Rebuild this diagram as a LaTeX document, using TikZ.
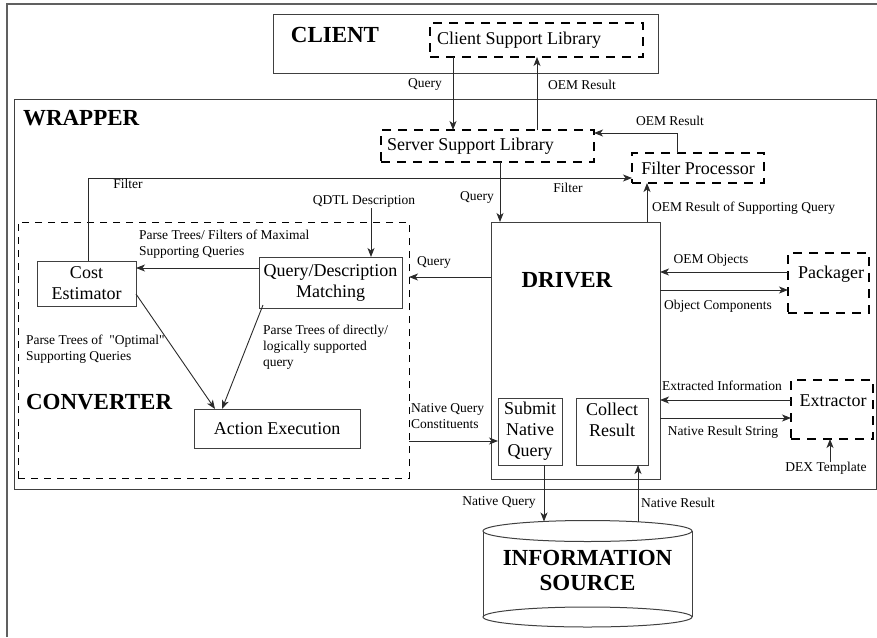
\documentclass[tikz,border=0pt]{standalone}
\usepackage{fontspec}
\setmainfont{Liberation Serif}[Ligatures=TeXOff]
\usetikzlibrary{arrows.meta,calc}
\definecolor{boxgray}{HTML}{404040}
\definecolor{linegray}{HTML}{2A2A2A}
\definecolor{framegray}{HTML}{606060}
\begin{document}
\begin{tikzpicture}[x=1pt,y=-1pt,
  every node/.style={inner sep=0pt, outer sep=0pt},
  solidbox/.style={draw=boxgray, line width=1pt},
  dashbox/.style={draw=black, line width=1.4pt, dash pattern=on 9pt off 7pt},
  convbox/.style={draw=black, line width=0.9pt, dash pattern=on 7pt off 6pt},
  conn/.style={draw=linegray, line width=0.9pt, -{Stealth[length=9pt,width=7pt,inset=2.5pt]}},
  lbl/.style={font=\fontsize{13.5}{16}\selectfont, align=left},
  boxtxt/.style={font=\fontsize{18}{21}\selectfont, align=center},
  title/.style={font=\fontsize{23}{25}\selectfont\bfseries, align=center}]
\useasboundingbox (0,0) rectangle (877,637);

% page frame (top and left edges)
\draw[framegray, line width=1.6pt] (7,637) -- (7,4) -- (877,4);

% ---------- client side ----------
\node[solidbox, minimum width=385, minimum height=59] (client) at (465.5,43.5) {};
\node[title, anchor=center] (clientT) at (335,35) {CLIENT};
\node[dashbox, minimum width=213, minimum height=34] (csl) at (536.5,40) {};
\node[boxtxt, anchor=west] (cslT) at (437,40) {Client Support Library};

% ---------- wrapper ----------
\node[solidbox, minimum width=862, minimum height=390] (wrapper) at (445,294) {};
\node[title, anchor=west] (wrapT) at (23,118) {WRAPPER};

\node[dashbox, minimum width=213, minimum height=32] (ssl) at (487.5,146) {};
\node[boxtxt, anchor=west] (sslT) at (387,146) {Server Support Library};

\node[dashbox, minimum width=132, minimum height=30, boxtxt] (fp) at (698,168) {Filter Processor};

% driver with its two inner boxes
\node[solidbox, minimum width=169, minimum height=257] (drv) at (575.5,350.5) {};
\node[title] (drvT) at (567,280) {DRIVER};
\node[solidbox, minimum width=64, minimum height=67, boxtxt] (snq) at (530,431.5) {Submit\\Native\\Query};
\node[solidbox, minimum width=72, minimum height=67] (cr) at (612,431.5) {};
\node[boxtxt] (crT) at (612,420) {Collect\\Result};

% packager and extractor
\node[dashbox, minimum width=81, minimum height=60] (pkg) at (828.5,283) {};
\node[boxtxt] (pkgT) at (831,274) {Packager};
\node[dashbox, minimum width=82, minimum height=59] (ext) at (832,409.5) {};
\node[boxtxt] (extT) at (833,401) {Extractor};

% converter
\node[convbox, minimum width=391, minimum height=256] (conv) at (213.5,350) {};
\node[title, anchor=west] (convT) at (26,402) {CONVERTER};
\node[solidbox, minimum width=99, minimum height=45, boxtxt] (ce) at (86.5,283.5) {Cost\\Estimator};
\node[solidbox, minimum width=143, minimum height=51, boxtxt] (qdm) at (330.5,282.5) {Query/Description\\Matching};
\node[solidbox, minimum width=166, minimum height=39, boxtxt] (ae) at (277,428.5) {Action Execution};

% information source (cylinder)
\draw[boxgray, line width=1pt] (483,531) -- (483,617) (692,531) -- (692,617);
\draw[boxgray, line width=1pt, fill=white] (587.5,531) ellipse [x radius=104.5, y radius=10.5];
\draw[boxgray, line width=1pt] (587.5,617) ellipse [x radius=104.5, y radius=10];
\node[title] (src) at (587.5,570.5) {INFORMATION\\SOURCE};

% ---------- connector coordinates ----------
\coordinate (qA) at (453,0);
\coordinate (oA) at (537,0);
\coordinate (oB) at (677,133);
\coordinate (fA) at (88,178);
\coordinate (qB) at (500,0);
\coordinate (oC) at (647,0);
\coordinate (yObj) at (0,272);
\coordinate (yCmp) at (0,290);
\coordinate (yExt) at (0,400);
\coordinate (yNrs) at (0,418);
\coordinate (dexS) at (830,462);
\coordinate (qdtlS) at (371,208);
\coordinate (yPt) at (0,268);
\coordinate (ceA) at (136,294);
\coordinate (aeA) at (215,409);
\coordinate (qdmA) at (263,305);
\coordinate (aeB) at (222,409);
\coordinate (yQ) at (0,277);
\coordinate (yNqc) at (0,441);
\coordinate (srcA) at (544,521.5);
\coordinate (srcB) at (638,521.8);

% ---------- connectors ----------
\draw[conn] (csl.south -| qA) -- (ssl.north -| qA);
\draw[conn] (ssl.north -| oA) -- (csl.south -| oA);
\draw[conn] (fp.north -| oB) -- (oB) -- (ssl.east |- oB);
\draw[conn] (ce.north -| fA) -- (fA) -- (fp.west |- fA);
\draw[conn] (ssl.south -| qB) -- (drv.north -| qB);
\draw[conn] (drv.north -| oC) -- (fp.south -| oC);
\draw[conn] (pkg.west |- yObj) -- (drv.east |- yObj);
\draw[conn] (drv.east |- yCmp) -- (pkg.west |- yCmp);
\draw[conn] (ext.west |- yExt) -- (drv.east |- yExt);
\draw[conn] (drv.east |- yNrs) -- (ext.west |- yNrs);
\draw[conn] (dexS) -- (ext.south -| dexS);
\draw[conn] (qdtlS) -- (qdm.north -| qdtlS);
\draw[conn] (qdm.west |- yPt) -- (ce.east |- yPt);
\draw[conn] (ce.east |- ceA) -- (aeA);
\draw[conn] (qdmA) -- (aeB);
\draw[conn] (drv.west |- yQ) -- (conv.east |- yQ);
\draw[conn] (conv.east |- yNqc) -- (snq.west |- yNqc);
\draw[conn] (snq.south -| srcA) -- (srcA);
\draw[conn] (srcB) -- (cr.south -| srcB);

% ---------- labels ----------
\node[lbl] (lQ1) at (425,84) {Query};
\node[lbl] (lO1) at (582,85) {OEM Result};
\node[lbl] (lO2) at (670,121) {OEM Result};
\node[lbl] (lF1) at (128,184) {Filter};
\node[lbl] (lF2) at (568,188) {Filter};
\node[lbl] (lQ2) at (477,197) {Query};
\node[lbl, anchor=west] (lOs) at (652,208) {OEM Result of Supporting Query};
\node[lbl] (lQd) at (364,201) {QDTL Description};
\node[lbl, anchor=north west] (lPm) at (139,230) {Parse Trees/ Filters of Maximal\\Supporting Queries};
\node[lbl, anchor=north west] (lPo) at (26,335) {Parse Trees of~ "Optimal"\\Supporting Queries};
\node[lbl, anchor=north west] (lPd) at (263,325) {Parse Trees of directly/\\logically supported\\query};
\node[lbl] (lQ3) at (434,262) {Query};
\node[lbl, anchor=north west] (lNq) at (411,404) {Native Query\\Constituents};
\node[lbl] (lOo) at (711,260) {OEM Objects};
\node[lbl] (lOc) at (718,306) {Object Components};
\node[lbl] (lEi) at (722,386) {Extracted Information};
\node[lbl] (lNs) at (723,432) {Native Result String};
\node[lbl] (lDx) at (826,468) {DEX Template};
\node[lbl] (lNQ) at (499,502) {Native Query};
\node[lbl] (lNR) at (678,503) {Native Result};
\end{tikzpicture}
\end{document}
